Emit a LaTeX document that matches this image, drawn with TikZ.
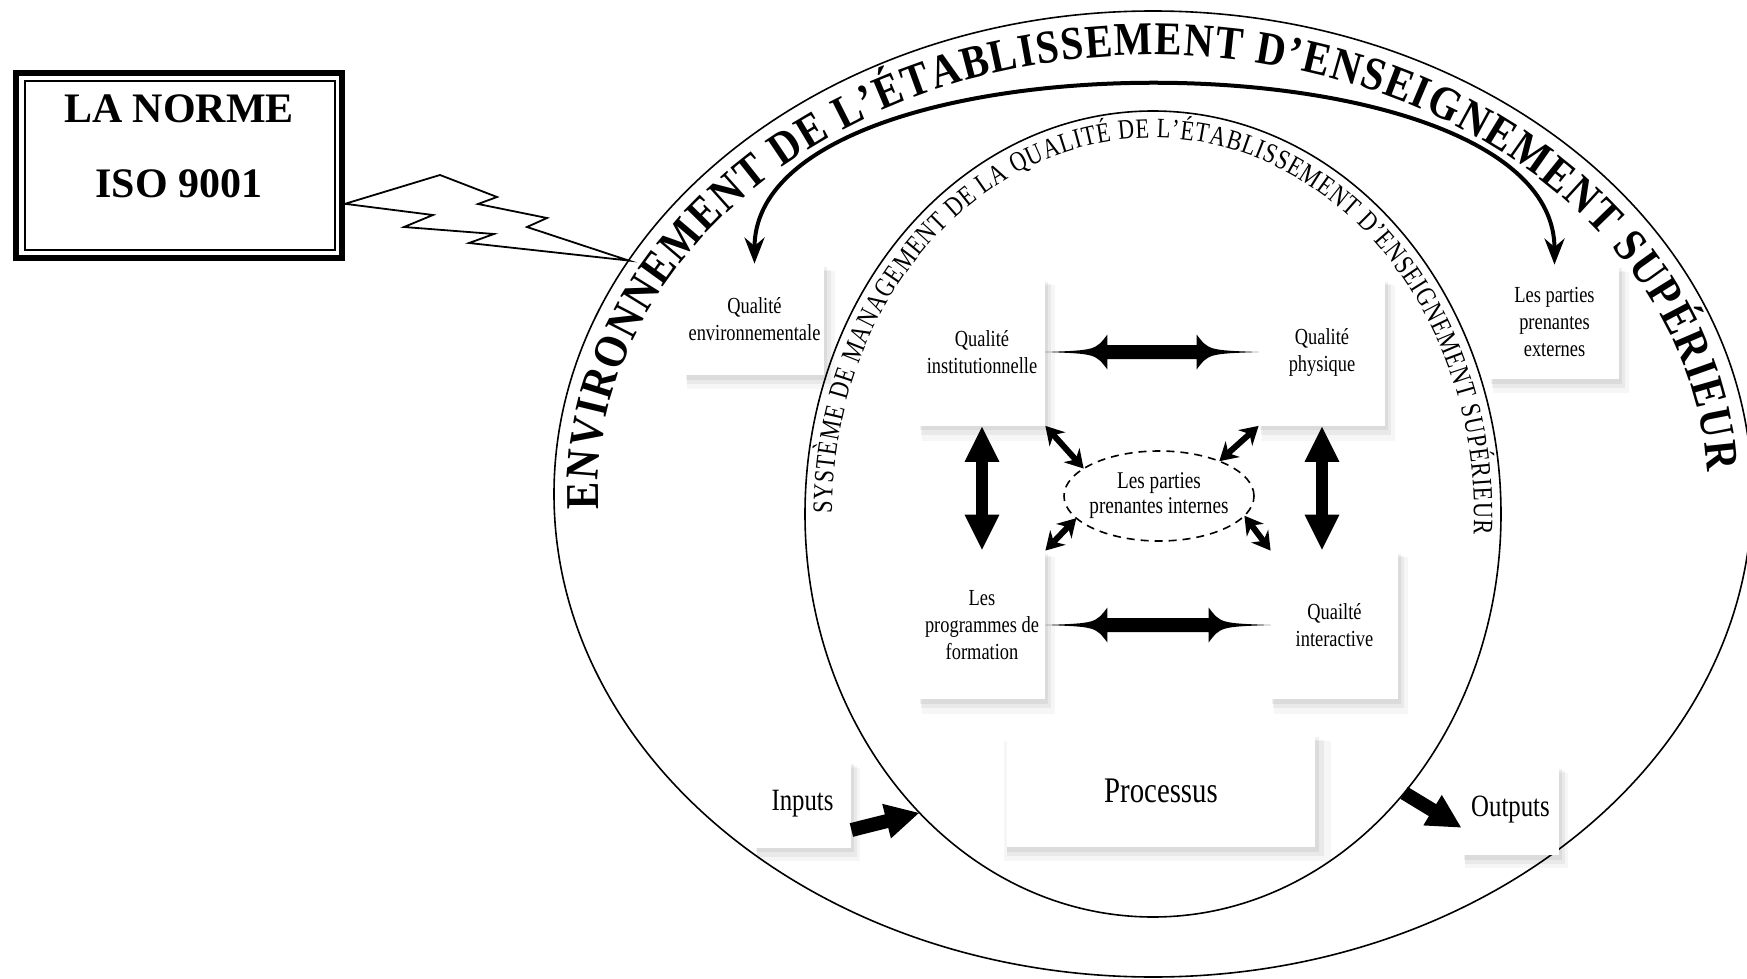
\documentclass[tikz,border=0pt]{standalone}
\usepackage{fontspec}
\setmainfont{Liberation Serif}
\newfontfamily\narrowfont[FakeStretch=0.8]{Liberation Serif}
\newfontfamily\ringfont[FakeStretch=0.8]{Liberation Serif}
\newfontfamily\archfont[FakeStretch=0.87]{Liberation Serif}
\usetikzlibrary{shapes.geometric,arrows.meta,calc,decorations.text,shadows}
\begin{document}
\begin{tikzpicture}[x=0.5pt,y=0.5pt,
  box node/.style={fill=white,align=center,inner sep=2pt,font=\narrowfont\fontsize{11.5}{13.5}\selectfont,
    general shadow={fill=black,opacity=0.035,shadow xshift=3pt,shadow yshift=-5pt,shadow scale=1.06},
    general shadow={fill=black,opacity=0.05,shadow xshift=2pt,shadow yshift=-3.5pt,shadow scale=1.03},
    general shadow={fill=black,opacity=0.06,shadow xshift=1pt,shadow yshift=-2pt,shadow scale=1.01}},
  ring/.style={ellipse,draw,line width=0.8pt,inner sep=0pt,outer sep=0pt},
  arch arrow/.style={draw,line width=2pt,{Stealth[length=13pt,width=10pt]}-{Stealth[length=13pt,width=10pt]}},
  fat arrow/.style={draw,line width=7pt,-{Triangle[length=17pt,width=16.5pt]}},
  stem arrow/.style={draw,line width=6pt,{Triangle[length=18pt,width=16pt]}-{Triangle[length=18pt,width=16pt]}},
  small arrow/.style={line width=3pt,{Stealth[length=9pt,width=10.5pt]}-{Stealth[length=9pt,width=10.5pt]}},
  flare arrow/.style={to path={
    .. controls ($(\tikztostart)!25pt!(\tikztotarget)!0.9pt!90:(\tikztotarget)$) .. ($(\tikztostart)!31pt!(\tikztotarget)!8.75pt!90:(\tikztotarget)$)
    -- ($(\tikztostart)!31pt!(\tikztotarget)!3.5pt!90:(\tikztotarget)$)
    -- ($(\tikztotarget)!31pt!(\tikztostart)!3.5pt!-90:(\tikztostart)$)
    -- ($(\tikztotarget)!31pt!(\tikztostart)!8.75pt!-90:(\tikztostart)$)
    .. controls ($(\tikztotarget)!25pt!(\tikztostart)!0.9pt!-90:(\tikztostart)$) .. (\tikztotarget)
    .. controls ($(\tikztotarget)!25pt!(\tikztostart)!0.9pt!90:(\tikztostart)$) .. ($(\tikztotarget)!31pt!(\tikztostart)!8.75pt!90:(\tikztostart)$)
    -- ($(\tikztotarget)!31pt!(\tikztostart)!3.5pt!90:(\tikztostart)$)
    -- ($(\tikztostart)!31pt!(\tikztotarget)!3.5pt!-90:(\tikztotarget)$)
    -- ($(\tikztostart)!31pt!(\tikztotarget)!8.75pt!-90:(\tikztotarget)$)
    .. controls ($(\tikztostart)!25pt!(\tikztotarget)!0.9pt!-90:(\tikztotarget)$) .. (\tikztostart) -- cycle}},
  bolt/.style={draw,fill=white,line width=0.9pt,line join=miter}]

  \useasboundingbox (0,0) rectangle (1747,-979);

  \node[ring,minimum width=599pt,minimum height=483pt] (env) at (1153,-494) {};
  \node[ring,minimum width=348pt,minimum height=403pt] (sys) at (1153,-514) {};

  \path[decorate,decoration={text along path,text align={fit to path},
    text={|\archfont\bfseries\fontsize{23.5}{27}\selectfont|ENVIRONNEMENT DE L’ÉTABLISSEMENT D’ENSEIGNEMENT SUPÉRIEUR}}]
    ($(env.center)+(182:555 and 439)$) arc[start angle=182,end angle=3,x radius=555,y radius=439];
  \path[decorate,decoration={text along path,text align={fit to path},
    text={|\ringfont\fontsize{14}{16}\selectfont|SYSTÈME DE MANAGEMENT DE LA QUALITÉ DE L’ÉTABLISSEMENT D’ENSEIGNEMENT SUPÉRIEUR}}]
    ($(sys.center)+(180:321 and 376)$) arc[start angle=180,end angle=-3,x radius=321,y radius=376];

  \node[draw,line width=3pt,minimum width=163pt,minimum height=92.5pt,inner sep=0pt] (norme) at (179,-165.5) {};
  \draw[line width=0.75pt] ($(norme.north west)+(12,-11)$) rectangle ($(norme.south east)+(-10,11)$);
  \node[font=\bfseries\fontsize{21}{37.5}\selectfont,align=center] (normetext) at (179,-146.7) {LA NORME\\ISO 9001};
  \draw[bolt] (norme.-13) -- (440,-175) -- (497,-197) -- (478,-204) -- (547,-218) -- (527,-227)
    -- (env.156) -- (469,-243) -- (494,-234) -- (404,-227) -- (433,-215) -- cycle;

  \node[box node,minimum width=69.5pt,minimum height=55.5pt] (qenv) at (754.5,-319.5) {Qualité\\environnementale};
  \node[box node,minimum width=63pt,minimum height=73.5pt] (inst) at (982,-352) {Qualité\\institutionnelle};
  \node[box node,minimum width=63pt,minimum height=73.5pt] (phys) at (1322,-352) {Qualité\\physique};
  \node[box node,minimum width=64.5pt,minimum height=57pt] (ext) at (1554.5,-322) {Les parties\\prenantes\\externes};
  \node[box node,minimum width=63pt,minimum height=74pt] (prog) at (982,-625) {Les\\programmes de\\formation};
  \node[box node,minimum width=63.5pt,minimum height=74pt] (inter) at (1334.5,-625) {Quailté\\interactive};
  \node[ring,dashed,dash pattern=on 4pt off 3pt,minimum width=95pt,minimum height=45pt,inner xsep=-2pt,
    align=center,font=\narrowfont\fontsize{12}{12.5}\selectfont] (ppi) at (1159,-496) {Les parties\\prenantes internes};
  \node[box node,minimum width=154pt,minimum height=56.5pt,font=\narrowfont\fontsize{18}{20}\selectfont] (proc) at (1161,-790.5) {Processus};
  \node[box node,minimum width=48.5pt,minimum height=44pt,font=\narrowfont\fontsize{15.5}{18}\selectfont] (inputs) at (802.5,-804) {Inputs};
  \node[box node,minimum width=48.5pt,minimum height=45pt,font=\narrowfont\fontsize{15.5}{18}\selectfont] (outputs) at (1510.5,-810) {Outputs};

  \draw[arch arrow] (qenv.north) .. controls ($(qenv.north)+(0,236)$) and ($(ext.north)+(0,237)$) .. (ext.north);
  \fill (inst.east) to[flare arrow] (phys.west);
  \fill (prog.east) to[flare arrow] (inter.west);
  \draw[stem arrow] (inst.south) -- (prog.north);
  \draw[stem arrow] (phys.south) -- (phys.south |- inter.north);
  \path[small arrow]
    (inst.south east) edge (ppi.160)
    (phys.south west) edge (ppi.30)
    (prog.north east) edge (ppi.195)
    (inter.north west) edge (ppi.-13);
  \draw[fat arrow] (inputs.-28) -- (sys.232);
  \draw[fat arrow] (sys.-48.5) -- (outputs.200);
\end{tikzpicture}
\end{document}
